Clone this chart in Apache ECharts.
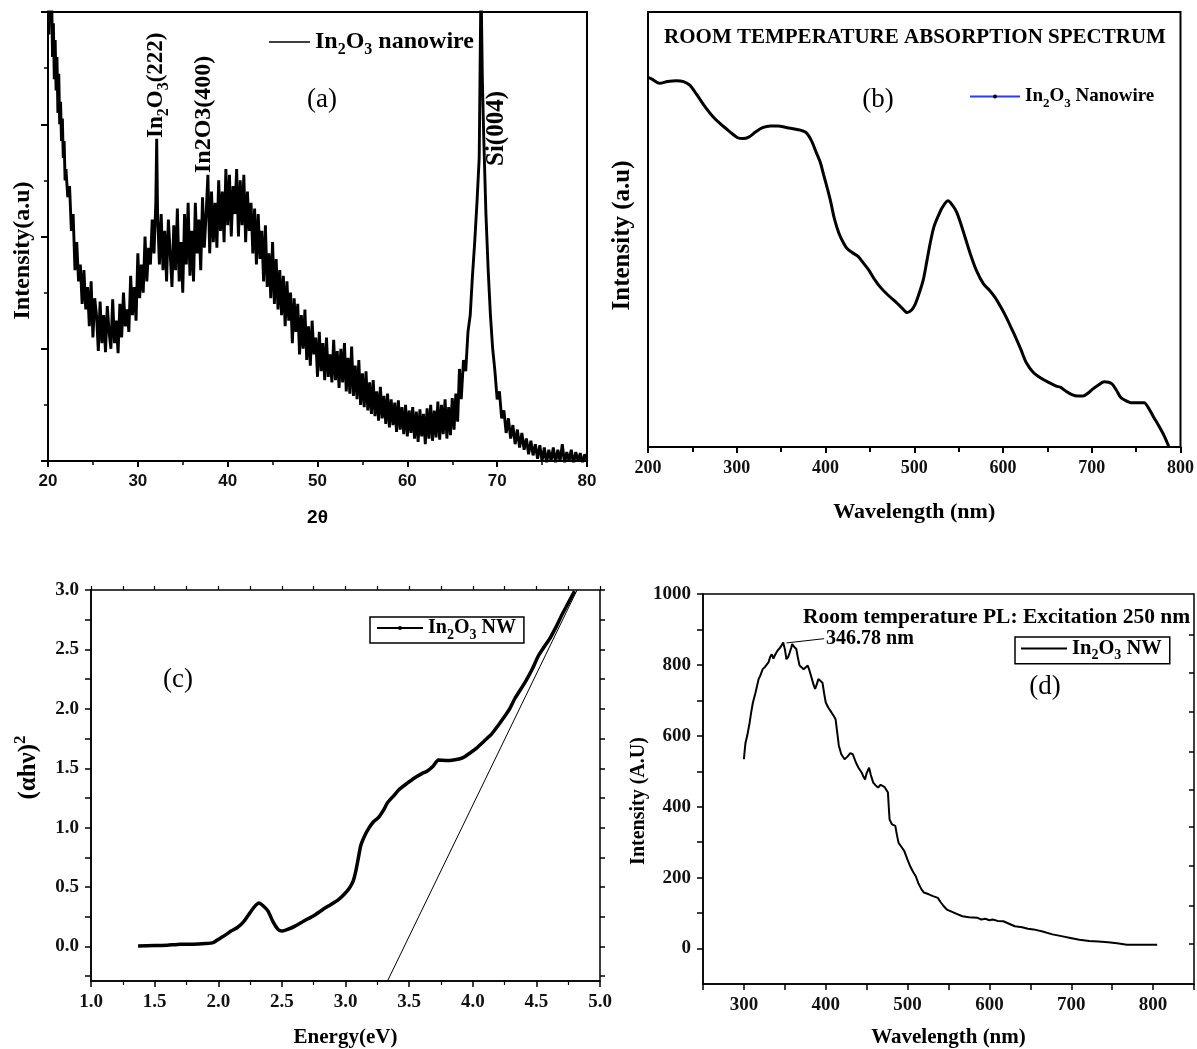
<!DOCTYPE html>
<html><head><meta charset="utf-8">
<script src="https://cdn.jsdelivr.net/npm/echarts@6/dist/echarts.min.js"></script>
<style>html,body{margin:0;padding:0;background:#fff}#c{width:1197px;height:1049px}</style>
</head><body><div id="c"></div>
<script>
// ---------- DATA ----------
// (a) XRD pattern: [2theta, intensity (a.u.)]
const xrdData = [[20,4.3],[20.1,3.8],[20.2,4.3],[20.3,3.9],[20.4,4.2],[20.5,3.6],[20.6,3.9],[20.7,3.4],[20.8,3.75],[20.9,3.3],[21,3.6],[21.1,3.1],[21.2,3.45],[21.3,3.0],[21.4,3.2],[21.5,2.85],[21.6,3.05],[21.7,2.7],[21.8,2.85],[21.9,2.5],
[22,2.6],[22.2,2.35],[22.4,2.45],[22.6,2.05],[22.8,2.2],[23,1.7],[23.2,1.95],[23.4,1.6],[23.6,1.75],[23.8,1.4],[24,1.7],[24.2,1.35],[24.4,1.55],[24.6,1.2],[24.8,1.6],[25,1.1],[25.2,1.45],[25.4,1.3],[25.6,0.98],[25.8,1.42],[26,1.05],[26.2,1.3],[26.4,0.97],[26.6,1.38],[26.8,1.15],[27,1.0],[27.2,1.44],[27.4,1.05],[27.6,1.25],[27.8,0.96],[28,1.4],[28.2,1.1],[28.4,1.5],[28.6,1.2],[28.8,1.35],[29,1.15],[29.2,1.65],[29.4,1.3],[29.6,1.55],[29.8,1.25],[30,1.85],[30.2,1.45],[30.4,1.75],[30.6,1.5],[30.8,2.0],[31,1.6],[31.2,1.9],[31.4,1.75],[31.6,2.15],[31.8,1.85],[32,2.3],[32.1,2.87],[32.2,2.2],[32.4,1.75],[32.6,2.2],[32.8,1.7],[33,2.05],[33.2,1.6],[33.4,2.15],[33.6,1.85],[33.8,1.55],[34,2.1],[34.2,1.7],[34.4,2.25],[34.6,1.6],[34.8,1.95],[35,1.5],[35.2,2.2],[35.4,1.75],[35.6,2.3],[35.8,1.65],[36,2.05],[36.2,1.6],[36.4,2.3],[36.6,1.85],[36.8,2.15],[37,1.7],[37.2,2.35],[37.4,1.9],[37.6,2.2],[37.8,2.55],[38,1.85],[38.2,2.4],[38.4,1.95],[38.6,2.3],[38.8,1.9],[39,2.5],[39.2,2.05],[39.4,2.4],[39.6,1.95],[39.8,2.6],[40,2.1],[40.2,2.55],[40.4,2.0],[40.6,2.45],[40.8,2.2],[41,2.6],[41.2,2.0],[41.4,2.5],[41.6,2.1],[41.8,2.55],[42,1.95],[42.2,2.4],[42.4,2.05],[42.6,2.3],[42.8,1.85],[43,2.25],[43.2,1.75],[43.4,2.2],[43.6,1.8],[43.8,2.05],[44,1.6],[44.2,2.1],[44.4,1.55],[44.6,1.85],[44.8,1.45],[45,1.95],[45.2,1.4],[45.4,1.8],[45.6,1.35],[45.8,1.7],[46,1.3],[46.2,1.65],[46.4,1.2],[46.6,1.6],[46.8,1.25],[47,1.5],[47.2,1.05],[47.4,1.45],[47.6,1.15],[47.8,1.4],[48,0.95],[48.2,1.3],[48.4,1.0],[48.6,1.35],[48.8,0.9],[49,1.2],[49.2,0.85],[49.4,1.25],[49.6,0.95],[49.8,1.1],[50,0.75],[50.2,1.15],[50.4,0.8],[50.6,1.05],[50.8,0.72],[51,1.1],[51.2,0.75],[51.4,0.95],[51.6,0.7],[51.8,1.08],[52,0.72],[52.2,0.98],[52.4,0.65],[52.6,1.0],[52.8,0.7],[53,1.05],[53.2,0.62],[53.4,0.92],[53.6,0.6],[53.8,1.02],[54,0.58],[54.2,0.85],[54.4,0.55],[54.6,0.9],[54.8,0.5],[55,0.78],[55.2,0.48],[55.4,0.8],[55.6,0.45],[55.8,0.7],[56,0.42],[56.2,0.72],[56.4,0.4],[56.6,0.62],[56.8,0.36],[57,0.66],[57.2,0.38],[57.4,0.58],[57.6,0.33],[57.8,0.6],[58,0.3],[58.2,0.55],[58.4,0.32],[58.6,0.52],[58.8,0.26],[59,0.54],[59.2,0.28],[59.4,0.48],[59.6,0.24],[59.8,0.5],[60,0.22],[60.2,0.45],[60.4,0.25],[60.6,0.48],[60.8,0.2],[61,0.44],[61.2,0.17],[61.4,0.46],[61.6,0.22],[61.8,0.42],[62,0.15],[62.2,0.47],[62.4,0.2],[62.6,0.5],[62.8,0.18],[63,0.45],[63.2,0.21],[63.4,0.53],[63.6,0.19],[63.8,0.5],[64,0.24],[64.2,0.55],[64.4,0.2],[64.6,0.48],[64.8,0.23],[65,0.56],[65.2,0.28],[65.4,0.6],[65.6,0.35],[65.8,0.82],[66,0.55],
[66.25,0.9],[66.5,0.8],[66.75,1.15],[67,1.3],[67.25,1.65],[67.5,1.95],[67.75,2.3],[68,2.7],[68.2,4.3],[68.35,3.4],[68.5,2.9],[68.75,2.2],[69,1.7],[69.25,1.3],[69.5,1.0],[69.75,0.8],[70,0.55],[70.25,0.62],[70.5,0.38],[70.75,0.45],[71,0.25],[71.25,0.38],[71.5,0.2],[71.75,0.32],[72,0.15],[72.25,0.28],[72.5,0.12],[72.75,0.25],[73,0.1],[73.25,0.2],[73.5,0.06],[73.75,0.18],[74,0.05],[74.25,0.15],[74.5,0.02],[74.75,0.14],[75,0.0],[75.25,0.12],[75.5,-0.02],[75.75,0.1],[76,0.0],[76.25,0.12],[76.5,-0.02],[76.75,0.1],[77,0.0],[77.25,0.15],[77.5,-0.02],[77.75,0.08],[78,0.0],[78.25,0.1],[78.5,-0.03],[78.75,0.08],[79,0.0],[79.25,0.07],[79.5,-0.02],[79.75,0.06],[80,0.0]];

// (b) absorption spectrum: [wavelength nm, intensity (a.u.)]
const absData = [[200,0.85],[205,0.845],[213,0.836],[222,0.84],[232,0.842],[240,0.84],[247,0.832],[255,0.81],[265,0.78],[273,0.76],[282,0.742],[292,0.725],[301,0.711],[307,0.709],[314,0.713],[321,0.724],[329,0.734],[338,0.738],[346,0.738],[357,0.734],[368,0.73],[378,0.723],[384,0.705],[389,0.68],[394,0.655],[398,0.625],[402,0.595],[406,0.5625],[410,0.525],[415,0.492],[420,0.47],[424,0.457],[430,0.447],[437,0.4375],[443,0.422],[449,0.406],[455,0.386],[462,0.367],[470,0.35],[480,0.332],[486,0.32],[492,0.309],[497,0.315],[501,0.328],[505,0.35],[510,0.383],[514,0.425],[518,0.469],[522,0.505],[527,0.531],[532,0.552],[538,0.566],[543,0.556],[548,0.539],[553,0.51],[557,0.484],[563,0.445],[570,0.406],[578,0.375],[585,0.36],[591,0.344],[598,0.32],[604,0.297],[609,0.275],[613,0.258],[620,0.225],[626,0.195],[634,0.172],[643,0.158],[652,0.148],[660,0.14],[665,0.137],[671,0.128],[677,0.121],[684,0.117],[690,0.117],[696,0.124],[701,0.133],[708,0.143],[714,0.15],[719,0.149],[723,0.145],[728,0.13],[733,0.113],[739,0.106],[744,0.102],[752,0.102],[759,0.102],[765,0.086],[770,0.068],[776,0.047],[782,0.024],[787,0.0]];

// (c) Tauc plot: [energy eV, (alpha h nu)^2]
const taucData = [[1.37,0.005],[1.5,0.008],[1.6,0.01],[1.7,0.02],[1.8,0.02],[1.9,0.025],[1.96,0.033],[2.0,0.06],[2.06,0.10],[2.1,0.13],[2.15,0.16],[2.2,0.21],[2.24,0.27],[2.28,0.33],[2.32,0.366],[2.35,0.345],[2.39,0.30],[2.43,0.21],[2.47,0.144],[2.5,0.13],[2.545,0.144],[2.6,0.17],[2.67,0.213],[2.75,0.26],[2.82,0.31],[2.88,0.35],[2.94,0.39],[2.99,0.44],[3.03,0.49],[3.06,0.55],[3.08,0.63],[3.10,0.74],[3.12,0.85],[3.15,0.93],[3.18,0.99],[3.22,1.05],[3.26,1.087],[3.3,1.15],[3.33,1.21],[3.38,1.27],[3.42,1.32],[3.48,1.37],[3.545,1.42],[3.6,1.455],[3.64,1.475],[3.69,1.52],[3.73,1.57],[3.8,1.565],[3.85,1.57],[3.9,1.58],[3.94,1.60],[4.0,1.645],[4.03,1.67],[4.09,1.73],[4.15,1.79],[4.2,1.86],[4.24,1.92],[4.29,2.0],[4.33,2.085],[4.38,2.17],[4.42,2.24],[4.47,2.34],[4.515,2.445],[4.56,2.52],[4.61,2.60],[4.66,2.70],[4.70,2.79],[4.75,2.89],[4.80,2.99]];
const taucFit = [[3.33,-0.29],[4.82,3.0]];

// (d) PL spectrum: [wavelength nm, intensity A.U.]
const plData = [[300,534],[301,560],[302,581],[304,600],[307,637],[309,668],[311,694],[314,720],[318,760],[320,770],[323,788],[326,795],[330,807],[332,822],[334,830],[336,818],[338,828],[341,840],[344,848],[346,855],[348,863],[350,845],[352,816],[354,822],[356,835],[358,850],[359,859],[361,852],[364,845],[366,820],[368,798],[370,795],[373,788],[375,792],[378,798],[380,785],[382,769],[385,745],[387,732],[389,745],[391,760],[393,758],[396,750],[398,720],[400,694],[403,680],[407,666],[410,655],[412,647],[414,610],[416,572],[419,548],[423,534],[426,540],[430,551],[433,548],[437,524],[440,510],[444,496],[446,485],[448,477],[450,495],[453,510],[455,490],[458,468],[461,460],[464,454],[467,462],[469,463],[472,455],[476,440],[477,400],[478,364],[481,350],[485,346],[487,320],[489,298],[493,285],[496,275],[498,270],[500,250],[503,233],[507,215],[510,204],[513,185],[517,167],[520,158],[526,153],[531,148],[537,143],[540,132],[544,120],[548,110],[553,105],[560,98],[567,91],[575,88],[585,87],[590,82],[595,84],[600,80],[604,82],[610,78],[617,77],[624,70],[631,63],[640,60],[647,56],[654,54],[665,48],[677,40],[688,35],[699,30],[710,25],[722,21],[733,20],[745,18],[756,15],[768,11],[780,11],[790,11],[805,11]];
const plPeak = [352, 862];
const plPeakLabelAt = [398, 874];
const plPeakText = '346.78 nm';

// tick values
const cYLabels = [0, 0.5, 1.0, 1.5, 2.0, 2.5, 3.0];
const cYTicks = [-0.25, 0, 0.25, 0.5, 0.75, 1.0, 1.25, 1.5, 1.75, 2.0, 2.25, 2.5, 2.75, 3.0];
const dYLabels = [0, 200, 400, 600, 800, 1000];
const dYTicks = [0, 100, 200, 300, 400, 500, 600, 700, 800, 900, 1000];
const dRightTicks = [14, 121, 233, 343, 449, 556, 669, 778, 885];

// ---------- STYLE ----------
const SERIF = 'Liberation Serif';
const SANS = 'Liberation Sans';
const INK = '#000';
function rich(fs, family) {
  const f = family || SERIF;
  const sub = Math.round(fs * 0.68);
  return {
    n: {fontFamily: f, fontWeight: 'bold', fontSize: fs, lineHeight: fs + 8, color: INK, fill: INK},
    s: {fontFamily: f, fontWeight: 'bold', fontSize: sub, lineHeight: sub, verticalAlign: 'bottom', color: INK, fill: INK},
    p: {fontFamily: f, fontWeight: 'bold', fontSize: sub, lineHeight: sub, verticalAlign: 'top', color: INK, fill: INK}
  };
}
const lineAx = {show: true, onZero: false, lineStyle: {color: INK, width: 2}};
const lineAxThin = {show: true, onZero: false, lineStyle: {color: INK, width: 1.5}};
function tickLbl(fs, fam) {
  return {color: '#111', fontFamily: fam || SERIF, fontWeight: 'bold', fontSize: fs};
}
function nameStyle(fs, fam, pad) {
  const s = {color: INK, fontFamily: fam || SERIF, fontWeight: 'bold', fontSize: fs, rich: rich(fs, fam)};
  if (pad) s.padding = pad;
  return s;
}

const chart = echarts.init(document.getElementById('c'), null, {renderer: 'canvas'});
const option = {
  animation: false,
  backgroundColor: '#fff',
  grid: [
    {left: 48, top: 12, width: 539, height: 449, show: true, borderColor: INK, borderWidth: 2},
    {left: 648, top: 12, width: 533, height: 435, show: true, borderColor: INK, borderWidth: 2},
    {left: 91, top: 590, width: 509, height: 393, show: true, borderColor: INK, borderWidth: 1.5},
    {left: 703, top: 594, width: 493, height: 392, show: true, borderColor: INK, borderWidth: 1.5}
  ],
  xAxis: [
    {gridIndex: 0, type: 'value', min: 20, max: 80, interval: 10, axisLine: lineAx,
     axisTick: {length: 6, lineStyle: {color: INK, width: 2}}, minorTick: {show: true, splitNumber: 2, length: 4, lineStyle: {color: INK, width: 1.5}},
     splitLine: {show: false}, axisLabel: Object.assign(tickLbl(17, SANS), {margin: 12}),
     name: '2θ', nameLocation: 'middle', nameGap: 47, nameTextStyle: nameStyle(19, SANS)},
    {gridIndex: 1, type: 'value', min: 200, max: 800, interval: 100, axisLine: lineAx,
     axisTick: {length: 6, lineStyle: {color: INK, width: 2}}, minorTick: {show: true, splitNumber: 2, length: 5, lineStyle: {color: INK, width: 2}},
     splitLine: {show: false}, axisLabel: Object.assign(tickLbl(18), {margin: 12}),
     name: 'Wavelength (nm)', nameLocation: 'middle', nameGap: 54, nameTextStyle: nameStyle(22)},
    {gridIndex: 2, type: 'value', min: 1, max: 5, interval: 0.5, axisLine: lineAxThin,
     axisTick: {length: 6, lineStyle: {color: INK, width: 1.5}}, minorTick: {show: true, splitNumber: 2, length: 4, lineStyle: {color: INK, width: 1.2}},
     splitLine: {show: false}, axisLabel: Object.assign(tickLbl(19), {margin: 12, formatter: v => v.toFixed(1)}),
     name: 'Energy(eV)', nameLocation: 'middle', nameGap: 46, nameTextStyle: nameStyle(21)},
    {gridIndex: 2, type: 'value', position: 'top', min: 1, max: 5, interval: 0.25, axisLine: {show: false, onZero: false},
     axisTick: {length: 4, lineStyle: {color: INK, width: 1.2}}, axisLabel: {show: false}, splitLine: {show: false}},
    {gridIndex: 3, type: 'value', min: 250, max: 850, interval: 50, axisLine: lineAxThin,
     axisTick: {length: 6, lineStyle: {color: INK, width: 1.5}}, splitLine: {show: false},
     axisLabel: Object.assign(tickLbl(19), {margin: 12, formatter: v => (v % 100 === 0 && v <= 800) ? String(v) : ''}),
     name: 'Wavelength (nm)', nameLocation: 'middle', nameGap: 43, nameTextStyle: nameStyle(21)}
  ],
  yAxis: [
    {gridIndex: 0, type: 'value', min: 0, max: 4, interval: 1, axisLine: lineAx,
     axisTick: {length: 7, lineStyle: {color: INK, width: 2}}, minorTick: {show: true, splitNumber: 2, length: 4, lineStyle: {color: INK, width: 1.5}},
     splitLine: {show: false}, axisLabel: {show: false},
     name: 'Intensity(a.u)', nameLocation: 'middle', nameGap: 13, nameRotate: 90, nameTextStyle: nameStyle(24, SERIF, [0, 28, 0, 0])},
    {gridIndex: 1, type: 'value', min: 0, max: 1, axisLine: lineAx, axisTick: {show: false}, splitLine: {show: false}, axisLabel: {show: false},
     name: 'Intensity (a.u)', nameLocation: 'middle', nameGap: 13, nameRotate: 90, nameTextStyle: nameStyle(25, SERIF, [0, 12, 0, 0])},
    {gridIndex: 2, type: 'value', min: -0.29, max: 3.0, axisLine: lineAxThin,
     axisTick: {length: 6, customValues: cYTicks, lineStyle: {color: INK, width: 1.5}}, splitLine: {show: false},
     axisLabel: Object.assign(tickLbl(19), {margin: 12, customValues: cYLabels, formatter: v => v.toFixed(1)}),
     name: '{n|(αhν)}{p|2}', nameLocation: 'middle', nameGap: 46, nameRotate: 90, nameTextStyle: nameStyle(25, SERIF, [0, 0, 0, 36])},
    {gridIndex: 2, type: 'value', position: 'right', min: -0.29, max: 3.0, axisLine: {show: false, onZero: false},
     axisTick: {length: 5, customValues: cYTicks, lineStyle: {color: INK, width: 1.5}}, axisLabel: {show: false}, splitLine: {show: false}},
    {gridIndex: 3, type: 'value', min: -100, max: 1000, axisLine: lineAxThin,
     axisTick: {length: 6, customValues: dYTicks, lineStyle: {color: INK, width: 1.5}}, splitLine: {show: false},
     axisLabel: Object.assign(tickLbl(19), {margin: 12, customValues: dYLabels, formatter: v => String(v)}),
     name: 'Intensity (A.U)', nameLocation: 'middle', nameGap: 51, nameRotate: 90, nameTextStyle: nameStyle(20, SERIF, [0, 24, 0, 0])},
    {gridIndex: 3, type: 'value', position: 'right', min: -100, max: 1000, axisLine: {show: false, onZero: false},
     axisTick: {inside: true, length: 5, customValues: dRightTicks, lineStyle: {color: INK, width: 1.5}}, axisLabel: {show: false}, splitLine: {show: false}}
  ],
  legend: [
    {data: ['xrd'], left: 264, top: 25, selectedMode: false, icon: 'rect', itemWidth: 41, itemHeight: 1.5, itemGap: 4,
     formatter: () => '{n|In}{s|2}{n|O}{s|3}{n| nanowire}', textStyle: {rich: rich(24)}},
    {data: [{name: 'abs', itemStyle: {color: '#000'}, lineStyle: {color: '#2b3cff', width: 2}}], left: 964, top: 82, selectedMode: false,
     itemWidth: 50, itemHeight: 5, formatter: () => '{n|In}{s|2}{n|O}{s|3}{n| Nanowire}', textStyle: {rich: rich(19)}},
    {data: ['tauc'], left: 370, top: 617, selectedMode: false, itemWidth: 46, itemHeight: 5,
     borderColor: INK, borderWidth: 1.5, padding: [1, 8, 1, 6],
     formatter: () => '{n|In}{s|2}{n|O}{s|3}{n| NW}', textStyle: {rich: rich(20)}},
    {data: ['pl'], left: 1015, top: 637, selectedMode: false, icon: 'rect', itemWidth: 46, itemHeight: 2,
     borderColor: INK, borderWidth: 1.5, padding: [1, 8, 1, 6],
     formatter: () => '{n|In}{s|2}{n|O}{s|3}{n| NW}', textStyle: {rich: rich(20.5)}}
  ],
  series: [
    {name: 'xrd', type: 'line', xAxisIndex: 0, yAxisIndex: 0, data: xrdData, symbol: 'none', clip: true,
     lineStyle: {color: '#000', width: 2.9, join: 'miter', miterLimit: 2}, itemStyle: {color: '#000'}},
    {name: 'abs', type: 'line', xAxisIndex: 1, yAxisIndex: 1, data: absData, symbol: 'circle', symbolSize: 4, showSymbol: false, smooth: 0.3,
     lineStyle: {color: '#000', width: 3}, itemStyle: {color: '#000'}},
    {name: 'tauc', type: 'line', xAxisIndex: 2, yAxisIndex: 2, data: taucData, symbol: 'circle', symbolSize: 4, showSymbol: false, smooth: 0.2,
     lineStyle: {color: '#000', width: 3.5}, itemStyle: {color: '#000'}},
    {name: 'fit', type: 'line', xAxisIndex: 2, yAxisIndex: 2, data: taucFit, symbol: 'none', clip: true,
     lineStyle: {color: '#000', width: 1}},
    {name: 'pl', type: 'line', xAxisIndex: 4, yAxisIndex: 4, data: plData, symbol: 'none',
     lineStyle: {color: '#000', width: 2}, itemStyle: {color: '#000'},
     markLine: {silent: true, symbol: ['none', 'none'], animation: false,
       lineStyle: {color: '#000', width: 1, type: 'solid'},
       label: {show: true, position: 'end', formatter: plPeakText, distance: 2, color: INK, fontFamily: SERIF, fontWeight: 'bold', fontSize: 20},
       data: [[{coord: plPeak}, {coord: plPeakLabelAt}]]}}
  ],
  graphic: [
    {type: 'text', x: 322, y: 100, style: {text: '(a)', fontFamily: SERIF, fontSize: 27, fill: INK, align: 'center', verticalAlign: 'middle'}},
    {type: 'text', x: 878, y: 100, style: {text: '(b)', fontFamily: SERIF, fontSize: 27, fill: INK, align: 'center', verticalAlign: 'middle'}},
    {type: 'text', x: 178, y: 680, style: {text: '(c)', fontFamily: SERIF, fontSize: 27, fill: INK, align: 'center', verticalAlign: 'middle'}},
    {type: 'text', x: 1045, y: 687, style: {text: '(d)', fontFamily: SERIF, fontSize: 27, fill: INK, align: 'center', verticalAlign: 'middle'}},
    {type: 'text', x: 156, y: 138, rotation: Math.PI / 2, style: {text: '{n|In}{s|2}{n|O}{s|3}{n|(222)}', rich: rich(23), align: 'left', verticalAlign: 'middle'}},
    {type: 'text', x: 204, y: 173, rotation: Math.PI / 2, style: {text: '{n|In2O3(400)}', rich: rich(24), align: 'left', verticalAlign: 'middle'}},
    {type: 'text', x: 497, y: 166, rotation: Math.PI / 2, style: {text: '{n|Si(004)}', rich: rich(25), align: 'left', verticalAlign: 'middle'}},
    {type: 'text', x: 915, y: 38, style: {text: 'ROOM TEMPERATURE ABSORPTION SPECTRUM', fontFamily: SERIF, fontWeight: 'bold', fontSize: 21, fill: INK, align: 'center', verticalAlign: 'middle'}},
    {type: 'text', x: 803, y: 617, style: {text: 'Room temperature PL: Excitation 250 nm', fontFamily: SERIF, fontWeight: 'bold', fontSize: 21.5, fill: INK, align: 'left', verticalAlign: 'middle'}}
  ]
};
chart.setOption(option);
</script></body></html>
